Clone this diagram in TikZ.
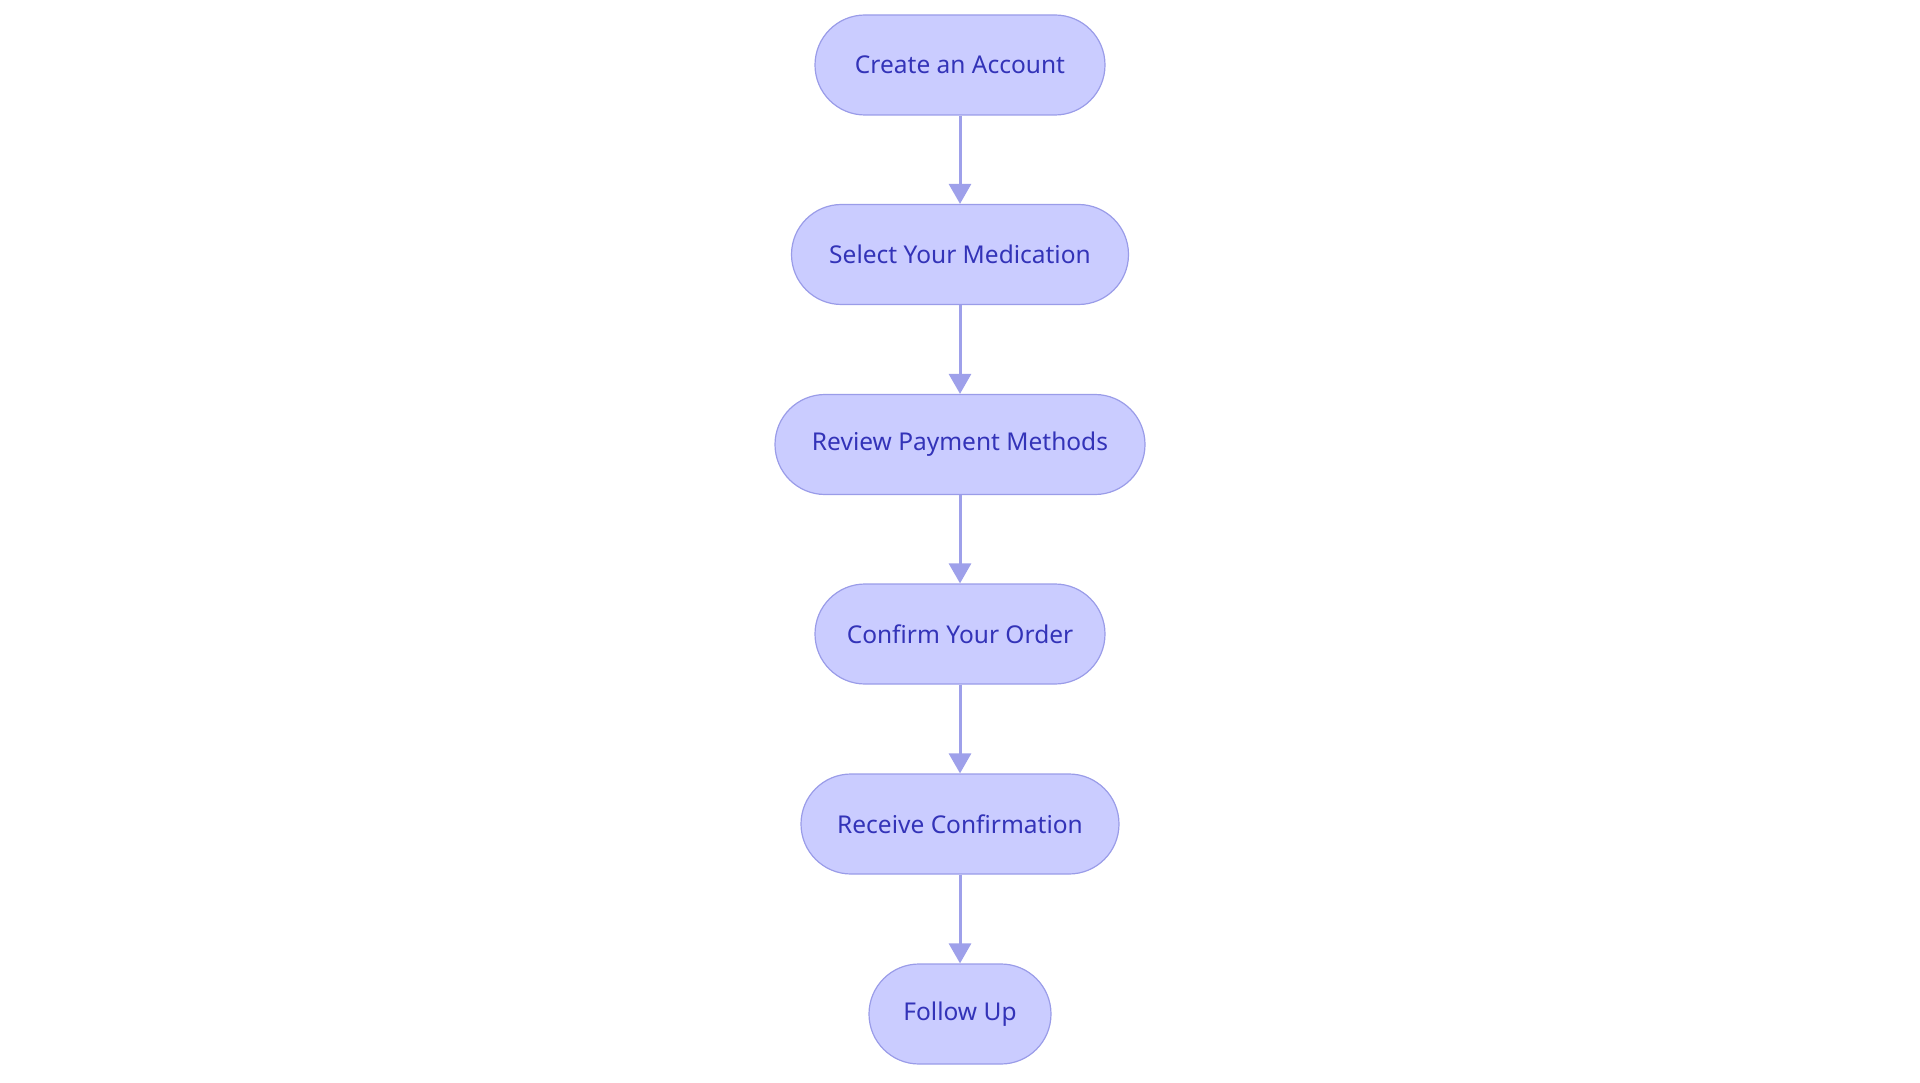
\documentclass[tikz,border=0pt]{standalone}
\usepackage{fontspec}
\setmainfont{Noto Sans}
\usetikzlibrary{arrows.meta}
\definecolor{nfill}{HTML}{CACCFF}
\definecolor{nline}{HTML}{9A9CE8}
\definecolor{ntext}{HTML}{3333B8}
\definecolor{aline}{HTML}{9EA0EA}
\begin{document}
\begin{tikzpicture}[x=1pt,y=-1pt,
  box/.style={draw=nline,line width=1.2pt,fill=nfill,rounded corners=50pt,minimum height=100pt,text=ntext,font=\fontsize{24.5}{28}\selectfont,inner sep=0pt},
  arr/.style={draw=aline,line width=3pt,-{Triangle[length=20pt,width=22pt]}}]
\useasboundingbox (0,0) rectangle (1920,1083);
\node[box,minimum width=290pt] (a) at (960,65) {Create an Account};
\node[box,minimum width=337pt] (b) at (960,254.5) {Select Your Medication};
\node[box,minimum width=370pt] (c) at (960,444.5) {Review Payment Methods};
\node[box,minimum width=290pt] (d) at (960,634) {Confirm Your Order};
\node[box,minimum width=318pt] (e) at (960,824) {Receive Confirmation};
\node[box,minimum width=182pt] (f) at (960,1014) {Follow Up};
\draw[arr] (a) -- (b);
\draw[arr] (b) -- (c);
\draw[arr] (c) -- (d);
\draw[arr] (d) -- (e);
\draw[arr] (e) -- (f);
\end{tikzpicture}
\end{document}
